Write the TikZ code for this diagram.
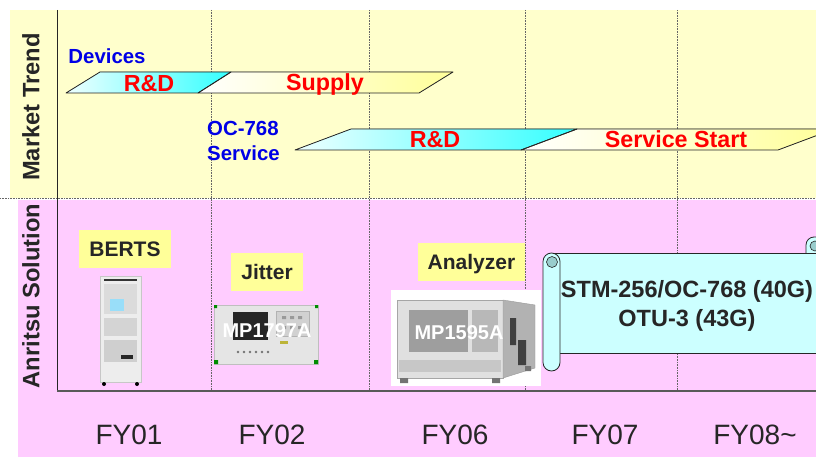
\documentclass[tikz,border=0pt]{standalone}
\usepackage{fontspec}
\setmainfont{Liberation Sans}
\usepackage{tkz-euclide}
\usetikzlibrary{calc}
\definecolor{TrendClr}{RGB}{255,255,204}
\definecolor{SolutionClr}{RGB}{255,204,255}
\definecolor{BoxClr}{RGB}{255,255,153}
\definecolor{RDClr}{RGB}{51,255,255}
\definecolor{SupplyClr}{RGB}{255,255,153}
\definecolor{ScrollClr}{RGB}{204,255,255}
\definecolor{RollClr}{RGB}{153,204,204}
\definecolor{TopicClr}{RGB}{0,0,230}
\definecolor{TaskClr}{RGB}{255,0,0}

\begin{document}
\begin{tikzpicture}[x=1pt,y=-1pt,
  side/.style={font=\fontsize{23.7}{26}\selectfont\bfseries,text=black!85,rotate=90,inner sep=0pt},
  topic/.style={font=\fontsize{20.4}{25}\selectfont\bfseries,text=TopicClr,inner sep=0pt,align=left},
  task/.style={font=\fontsize{23.3}{26}\selectfont\bfseries,text=TaskClr,inner sep=0pt,anchor=base},
  solbox/.style={fill=BoxClr,font=\fontsize{21}{24}\selectfont\bfseries,text=black!85,
    minimum height=38pt,inner sep=0pt,text height=15pt,text depth=0pt},
  model/.style={font=\fontsize{20}{24}\selectfont\bfseries,text=white,inner sep=0pt},
  year/.style={font=\fontsize{28}{32}\selectfont,text=black!85,inner sep=0pt,anchor=base},
  grid/.style={black!60,densely dotted,line width=.6pt}]
\tkzSetUpLine[line width=.8pt,color=black!85]
\useasboundingbox (0,0) rectangle (816,457);
\clip (0,0) rectangle (816,457);

% background bands
\fill[TrendClr] (10,10) rectangle (816,198);
\fill[SolutionClr] (18,200) rectangle (816,457);
\draw[grid] (0,198.5) -- (816,198.5);
\foreach \x in {211,369,525,677}
  \draw[grid] (\x,10) -- (\x,392);
\draw[line width=1pt,black!85] (57.5,10) -- (57.5,391);
\draw[line width=1.4pt,black!65] (57,391) -- (816,391);

\node[side] (trend) at (31,107) {Market Trend};
\node[side] (solution) at (31,296) {Anritsu Solution};

% market trend bars
\tkzDefPoints{66/93/A,100/72/B,231/72/C,198/93/D,453/72/E,419/93/F}
\tkzDefPoints{295/150/G,351/129/H,577/129/I,521/150/J,834/129/K,778/150/L}
\tkzFillPolygon[left color=RDClr!8,right color=RDClr](A,B,C,D)
\tkzFillPolygon[left color=white,right color=SupplyClr](D,C,E,F)
\tkzFillPolygon[left color=RDClr!8,right color=RDClr](G,H,I,J)
\tkzFillPolygon[left color=white,right color=SupplyClr](J,I,K,L)
\tkzDrawPolygon(A,B,C,D)
\tkzDrawPolygon(D,C,E,F)
\tkzDrawPolygon(G,H,I,J)
\tkzDrawPolygon(J,I,K,L)

\node[topic] (devices) at (107,56) {Devices};
\node[task] (rd1) at (149,91.5) {R\&D};
\node[task] (supply) at (325,91) {Supply};
\node[topic,anchor=west] (service) at (207,141) {OC-768\\Service};
\node[task] (rd2) at (435,148) {R\&D};
\node[task] (start) at (676,148) {Service Start};

% BERTS rack
\filldraw[fill=black!7,draw=black!22] (100,276) rectangle (141,382);
\fill[black!80] (104,278.5) rectangle (137,280.5);
\fill[black!14] (104,284) rectangle (137,314);
\fill[cyan!40!white] (110,299) rectangle (124,311);
\fill[black!17] (104,318) rectangle (137,336);
\fill[black!19] (104,340) rectangle (137,362);
\fill[black!85] (121,355) rectangle (133,359);
\fill[black] (104,384) circle (2) (137,384) circle (2);

% MP1797A
\filldraw[fill=black!10,draw=black!25] (214,305) rectangle (318,364);
\fill[black!85] (233,312) rectangle (268,340);
\filldraw[fill=black!18,draw=black!30] (276,311) rectangle (309,336);
\foreach \x in {282,290,298}
  \fill[black!40] (\x,316) rectangle ++(4,3) (\x,326) rectangle ++(4,3);
\foreach \x in {238,244,...,268}
  \fill[black!55] (\x,352) circle (1.3);
\fill[yellow!70!black] (280,341) rectangle (288,344);
\fill[green!55!black] (214,360) rectangle ++(4,4) (314,360) rectangle ++(4,4)
  (214,305) rectangle ++(3,3) (315,305) rectangle ++(3,3);
\node[model] (mp1797) at (267,331) {MP1797A};

% MP1595A
\fill[white] (391,290) rectangle (541,386);
\filldraw[fill=black!12,draw=black!35] (397,300) rectangle (503,378);
\filldraw[fill=black!30,draw=black!40] (503,300) -- (535,305) -- (535,368) -- (503,378) -- cycle;
\fill[black!38] (409,310) rectangle (468,352);
\fill[black!28] (472,310) rectangle (498,352);
\fill[black!22] (399,360) rectangle (501,372);
\fill[black!75] (510,318) rectangle (516,345) (518,340) rectangle (526,365);
\fill[black!55] (400,378) rectangle ++(8,5) (492,378) rectangle ++(8,5) (525,366) rectangle ++(6,5);
\node[model] (mp1595) at (459,333) {MP1595A};

% solution labels
\node[solbox,minimum width=92pt] (berts) at (125,249) {BERTS};
\node[solbox,minimum width=72pt] (jitter) at (267,272) {Jitter};
\node[solbox,minimum width=107pt] (analyzer) at (471.5,262) {Analyzer};

% scroll
\filldraw[fill=ScrollClr,draw=black!85,line width=.8pt,rounded corners=8pt]
  (806,237) rectangle (834,270);
\filldraw[fill=RollClr,draw=black!85,line width=.6pt] (815,246) circle (5);
\filldraw[fill=ScrollClr,draw=black!85,line width=.8pt] (552,253) rectangle (830,353);
\filldraw[fill=ScrollClr,draw=black!85,line width=.8pt,rounded corners=8.5pt]
  (543,253) rectangle (560,371);
\filldraw[fill=RollClr,draw=black!85,line width=.6pt] (552,262) circle (5.5);
\node[font=\fontsize{23.5}{29}\selectfont\bfseries,text=black!85,align=center,inner sep=0pt]
  (rate) at (687,306) {STM-256/OC-768 (40G)\\OTU-3 (43G)};

% fiscal years
\node[year] (fy01) at (129,444) {FY01};
\node[year] (fy02) at (272,444) {FY02};
\node[year] (fy06) at (455,444) {FY06};
\node[year] (fy07) at (605,444) {FY07};
\node[year] (fy08) at (755,444) {FY08\textasciitilde};
\end{tikzpicture}
\end{document}
